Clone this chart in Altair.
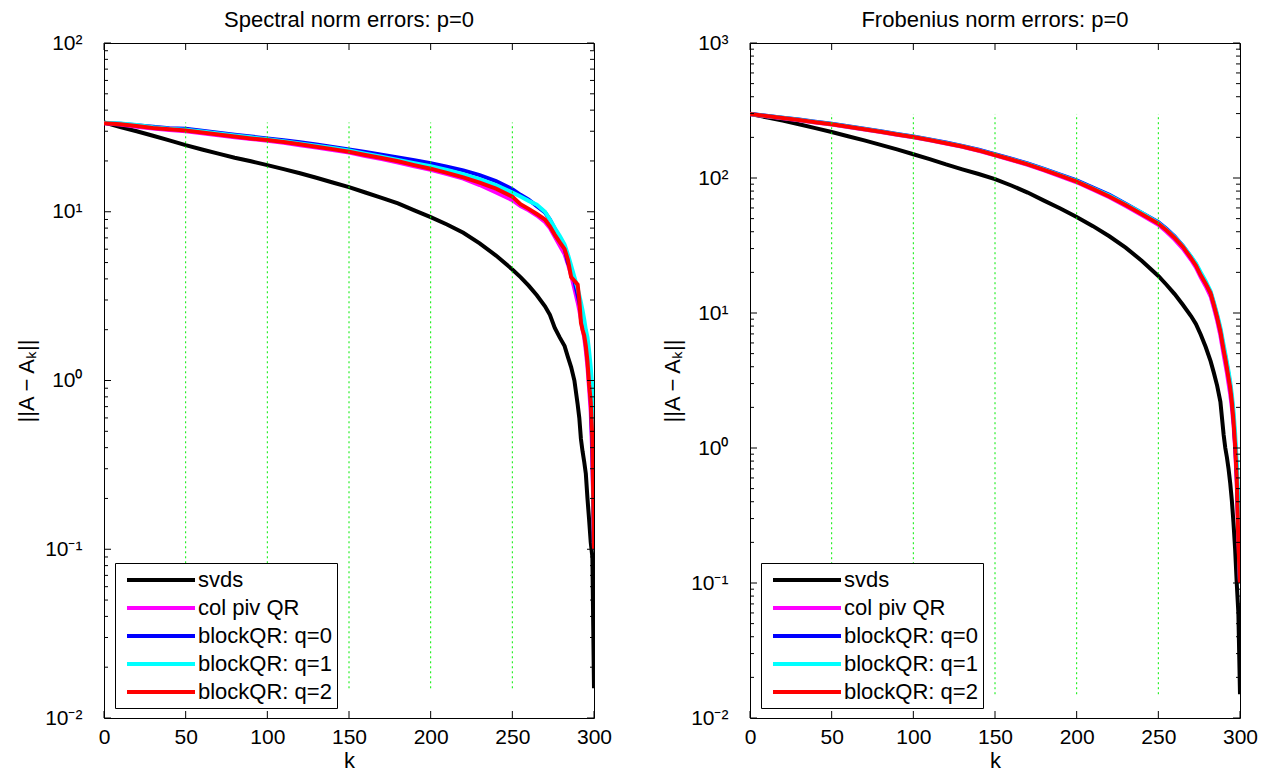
import altair as alt
import pandas as pd

FONT = "Liberation Sans"

METHODS = ["svds", "col piv QR", "blockQR: q=0", "blockQR: q=1", "blockQR: q=2"]
COLORS = ["#000000", "#ff00ff", "#0000ff", "#00ffff", "#ff0000"]

K = [0, 10, 20, 30, 40, 50, 60, 70, 80, 90, 100, 110, 120, 130, 140, 150, 160, 170, 180, 190,
     200, 210, 220, 230, 240, 250, 255, 260, 265, 270, 273, 276, 279, 282, 284, 286, 288, 290,
     291, 292, 293, 294, 295, 296, 297, 298, 299, 300]

# ---- Spectral norm errors ----
SPEC_SVDS = [33.8, 31.8, 30.0, 28.2, 26.5, 24.8, 23.4, 22.1, 20.9, 19.9, 18.9, 17.9, 16.9, 15.9, 14.9,
             14.0, 13.0, 12.1, 11.2, 10.2, 9.3, 8.4, 7.5, 6.5, 5.5, 4.55,
             4.1, 3.65, 3.2, 2.75, 2.45, 2.05, 1.8, 1.6, 1.38, 1.2, 1.0, 0.72, 0.6, 0.45, 0.38, 0.33,
             0.28, 0.2, 0.15, 0.11, 0.09, 0.015]
SPEC_CPQR = [33.4, 32.9, 31.9, 31.1, 30.5, 30.0, 29.2, 28.4, 27.6, 27.0, 26.3, 25.6, 24.8, 24.0, 23.2,
             22.4, 21.4, 20.5, 19.6, 18.6, 17.7, 16.7, 15.7, 14.4, 13.0, 11.7,
             10.8, 10.2, 9.5, 8.7, 8.0, 7.1, 6.3, 5.6, 4.9, 4.2, 3.5, 2.9, 2.6, 2.3, 2.0, 1.8,
             1.5, 1.2, 0.9, 0.65, 0.35, 0.1]
SPEC_Q0 = [33.6, 33.2, 32.6, 31.9, 31.3, 31.0, 30.2, 29.4, 28.6, 27.9, 27.2, 26.5, 25.8, 25.0, 24.2,
           23.4, 22.6, 21.8, 21.0, 20.2, 19.4, 18.5, 17.6, 16.5, 15.2, 13.6,
           12.6, 11.8, 10.8, 9.9, 9.0, 7.9, 7.0, 6.1, 5.0, 4.5, 3.9, 3.2, 2.9, 2.6, 2.3, 2.0,
           1.7, 1.4, 1.05, 0.8, 0.4, 0.1]
SPEC_Q1 = [33.7, 33.3, 32.7, 31.7, 31.0, 30.6, 29.9, 29.1, 28.3, 27.6, 26.9, 26.2, 25.4, 24.6, 23.9,
           23.1, 22.1, 21.2, 20.3, 19.4, 18.6, 17.7, 16.7, 15.6, 14.4, 13.0,
           12.3, 11.6, 11.0, 10.0, 9.0, 8.0, 7.2, 6.4, 5.6, 4.8, 4.1, 3.5, 3.2, 2.9, 2.6, 2.3,
           2.0, 1.8, 1.5, 1.2, 0.9, 0.1]
SPEC_Q2 = [33.5, 33.0, 32.2, 31.4, 30.8, 30.3, 29.5, 28.7, 27.9, 27.2, 26.6, 25.9, 25.1, 24.3, 23.5,
           22.7, 21.7, 20.8, 19.9, 18.9, 18.0, 17.0, 16.0, 14.9, 13.7, 12.3,
           11.1, 10.4, 9.7, 9.0, 8.2, 7.3, 6.6, 6.0, 5.2, 4.1, 3.9, 3.7, 3.0, 2.2, 2.0, 1.85,
           1.6, 1.3, 0.95, 0.75, 0.45, 0.1]

# ---- Frobenius norm errors ----
FROB_SVDS = [298, 282, 266, 250, 234, 219, 204, 190, 176, 163, 150, 138, 126, 116, 107,
             98, 88, 78, 68, 59.5, 51.5, 44, 37, 30.5, 24.3, 18.8,
             16.2, 13.8, 11.5, 9.5, 8.3, 6.9, 5.6, 4.4, 3.6, 2.9, 2.2, 1.25, 1.0, 0.85, 0.7, 0.55,
             0.41, 0.28, 0.18, 0.1, 0.06, 0.015]
FROB_CPQR = [297, 287, 277, 268, 258, 249, 239, 229, 219, 209, 200, 190, 180, 170, 159,
             147, 136, 125, 114, 103, 93, 82, 72, 62, 53, 45,
             40, 35, 30, 24.8, 21.8, 18.4, 15.8, 13.3, 10.9, 8.8, 6.8, 4.9, 4.2, 3.6, 3.0, 2.5,
             2.0, 1.5, 1.0, 0.55, 0.22, 0.1]
FROB_Q0 = [299, 289, 280, 271, 261, 252, 242, 232, 222, 212, 203, 193, 183, 173, 162,
           150, 139, 128, 117, 106, 96, 85, 75, 64.5, 55, 47,
           42, 37, 31.5, 26, 23, 19.5, 16.8, 14.2, 11.7, 9.5, 7.5, 5.5, 4.8, 4.1, 3.5, 2.9,
           2.3, 1.7, 1.1, 0.65, 0.25, 0.1]
FROB_Q1 = [298, 288, 279, 270, 260, 251, 241, 231, 221, 211, 202, 192, 182, 172, 161,
           149, 138, 127, 116, 105, 95, 84, 74, 64, 55, 46.5,
           41.5, 36.5, 31.5, 26.3, 23.3, 20, 17.2, 14.5, 12, 9.8, 7.8, 5.8, 5.0, 4.3, 3.7, 3.1,
           2.5, 1.9, 1.3, 0.8, 0.35, 0.1]
FROB_Q2 = [298, 288, 278, 269, 259, 250, 240, 230, 220, 210, 201, 191, 181, 171, 160,
           148, 137, 126, 115, 104, 94, 83, 73, 63, 54, 46,
           41, 36, 31, 25.5, 22.5, 19, 16.5, 14, 11.5, 9.3, 7.3, 5.3, 4.6, 3.9, 3.3, 2.8,
           2.2, 1.6, 1.05, 0.6, 0.2, 0.1]

X_TICKS = [0, 50, 100, 150, 200, 250, 300]
GRID_K = [50, 100, 150, 200, 250]
SPEC_MAJOR = [0.01, 0.1, 1, 10, 100]
FROB_MAJOR = [0.01, 0.1, 1, 10, 100, 1000]
MINOR_MULT = [2, 3, 4, 5, 6, 7, 8, 9]

W, H = 490, 675
TICK_LEN, MINOR_LEN = 7, 4

LABEL_EXPR = ("datum.value < 0.05 ? '10⁻²' : datum.value < 0.5 ? '10⁻¹' : "
              "datum.value < 5 ? '10⁰' : datum.value < 50 ? '10¹' : "
              "datum.value < 500 ? '10²' : '10³'")


def panel(title, series, major):
    rows = []
    for m, vals in zip(METHODS, series):
        for k, v in zip(K, vals):
            rows.append({"k": k, "err": v, "method": m})
    df = pd.DataFrame(rows)
    svds = series[0]
    grid_df = pd.DataFrame({"k": GRID_K,
                            "err": [min(svds)] * len(GRID_K),
                            "hi": [max(svds)] * len(GRID_K)})
    minor = [m * v for v in major[:-1] for m in MINOR_MULT]
    major_df = pd.DataFrame({"err": major})
    minor_df = pd.DataFrame({"err": minor})
    xt_df = pd.DataFrame({"k": X_TICKS})

    xs = alt.Scale(domain=[0, 300], nice=False, zero=False)
    ys = alt.Scale(type="log", domain=[major[0], major[-1]], nice=False)
    xa = alt.Axis(values=X_TICKS, title="k", ticks=False, domain=False, grid=False,
                  labelFontSize=21, labelPadding=8, labelColor="black",
                  titleFontSize=22, titleFontWeight="normal", titlePadding=3,
                  titleColor="black", labelFlush=False)
    ya = alt.Axis(values=major, labelExpr=LABEL_EXPR, title="||A − Aₖ||",
                  ticks=False, domain=False, grid=False,
                  labelFontSize=21, labelPadding=22, labelColor="black",
                  titleFontSize=22, titleFontWeight="normal", titlePadding=6,
                  titleColor="black", labelFlush=False)
    X = alt.X("k:Q", scale=xs, axis=xa, title="k")
    Y = alt.Y("err:Q", scale=ys, axis=ya, title="||A − Aₖ||")

    lines = alt.Chart(df).mark_line(strokeWidth=4, clip=True).encode(
        x=X, y=Y,
        color=alt.Color("method:N", scale=alt.Scale(domain=METHODS, range=COLORS),
                        legend=alt.Legend(title=None, orient="none", legendX=11, legendY=520,
                                          direction="vertical", symbolType="M0,0H6.8",
                                          symbolSize=400, symbolStrokeWidth=4, symbolOffset=-5,
                                          labelFontSize=22, labelOffset=59, labelColor="black",
                                          labelLimit=400, strokeColor="black", fillColor="white",
                                          padding=5, rowPadding=5, cornerRadius=0)),
    )

    grid = alt.Chart(grid_df).mark_rule(color="#00ee00", strokeWidth=1, strokeDash=[2, 3]).encode(
        x=X, y=Y, y2="hi:Q",
    )

    def xtick(y0, y1):
        return alt.Chart(xt_df).mark_rule(color="black", strokeWidth=1).encode(
            x=X, y=alt.value(y0), y2=alt.value(y1))

    def ytick(d, x0, x1):
        return alt.Chart(d).mark_rule(color="black", strokeWidth=1).encode(
            y=Y, x=alt.value(x0), x2=alt.value(x1))

    layers = [
        lines, grid,
        xtick(H, H - TICK_LEN), xtick(0, TICK_LEN),
        ytick(major_df, 0, TICK_LEN), ytick(major_df, W, W - TICK_LEN),
        ytick(minor_df, 0, MINOR_LEN), ytick(minor_df, W, W - MINOR_LEN),
    ]
    return alt.layer(*layers).properties(
        width=W, height=H,
        title=alt.TitleParams(title, fontSize=22, fontWeight="normal", anchor="middle",
                              color="black", frame="group", offset=0),
    )


left = panel("Spectral norm errors: p=0",
             [SPEC_SVDS, SPEC_CPQR, SPEC_Q0, SPEC_Q1, SPEC_Q2], SPEC_MAJOR)
right = panel("Frobenius norm errors: p=0",
              [FROB_SVDS, FROB_CPQR, FROB_Q0, FROB_Q1, FROB_Q2], FROB_MAJOR)

chart = alt.hconcat(left, right, spacing=156, bounds="flush").resolve_scale(
    x="independent", y="independent", color="independent"
).resolve_legend(color="independent").properties(
    padding={"left": 7, "top": 0, "right": 0, "bottom": 0}
).configure(font=FONT).configure_view(stroke="black", strokeWidth=1)

chart.save("out.html", embed_options={"renderer": "svg", "actions": False})
